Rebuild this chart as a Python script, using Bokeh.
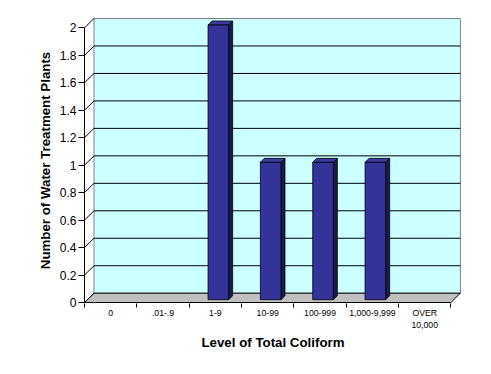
import numpy as np
from bokeh.plotting import figure
from bokeh.models import FixedTicker, Range1d
from bokeh.embed import file_html
from bokeh.resources import INLINE

# ---- data ----
categories = ["0", ".01-.9", "1-9", "10-99", "100-999", "1,000-9,999", "OVER\n10,000"]
plants = [0, 0, 2, 1, 1, 1, 0]
y_ticks = [0, 0.2, 0.4, 0.6, 0.8, 1.0, 1.2, 1.4, 1.6, 1.8, 2.0]
y_tick_labels = ["0", "0.2", "0.4", "0.6", "0.8", "1", "1.2", "1.4", "1.6", "1.8", "2"]

# ---- layout constants (pixels) ----
PX_PER_CAT = 52.34
PX_PER_UNIT = 137.35
FRAME_W, FRAME_H = 379, 286
PAD = 1.0
ux, uy = 1.0 / PX_PER_CAT, 1.0 / PX_PER_UNIT
wall_dx, wall_dy = 9.5 * ux, 9.3 * uy
bar_dx, bar_dy = 3.0 * ux, 2.8 * uy
depth_x, depth_y = 4.0 * ux, 4.0 * uy
bar_w = 20.6 * ux

n = len(categories)
x_range = Range1d(-PAD * ux, (FRAME_W - PAD) * ux)
y_range = Range1d(-PAD * uy, (FRAME_H - PAD) * uy)

p = figure(width=483, height=366, x_range=x_range, y_range=y_range,
           output_backend="svg", toolbar_location=None,
           min_border_left=83, min_border_right=21, min_border_top=17, min_border_bottom=63)
p.outline_line_color = None
p.background_fill_color = "white"
p.border_fill_color = "white"
p.xgrid.visible = False
p.ygrid.visible = False

FONT = "Liberation Sans"
yt = np.array(y_ticks, dtype=float)
ymax = yt[-1]

# back wall
p.quad(left=wall_dx, right=n + wall_dx, bottom=wall_dy, top=ymax + wall_dy,
       fill_color="#CCFFFF", line_color="#808080", line_width=1)
# gridlines on back wall
p.segment(x0=wall_dx, y0=yt[1:-1] + wall_dy, x1=n + wall_dx, y1=yt[1:-1] + wall_dy,
          line_color="black", line_width=1)
# floor
p.patch(x=[0, n, n + wall_dx, wall_dx], y=[0, 0, wall_dy, wall_dy],
        fill_color="#C0C0C0", line_color="black", line_width=1)
# diagonal side-wall ticks
p.segment(x0=0, y0=yt, x1=wall_dx, y1=yt + wall_dy, line_color="black", line_width=1)
# front value axis line
p.segment(x0=[0], y0=[0], x1=[0], y1=[ymax], line_color="black", line_width=1)

# bars
vals = np.array(plants, dtype=float)
idx = np.arange(n)
mask = vals > 0
cx = idx[mask] + 0.5 + bar_dx
v = vals[mask]
x0 = cx - bar_w / 2
x1 = cx + bar_w / 2
y0 = np.full_like(v, bar_dy)
y1 = v + bar_dy

side_xs = [[a, a + depth_x, a + depth_x, a] for a in x1]
side_ys = [[b, b + depth_y, t + depth_y, t] for b, t in zip(y0, y1)]
top_xs = [[a, b, b + depth_x, a + depth_x] for a, b in zip(x0, x1)]
top_ys = [[t, t, t + depth_y, t + depth_y] for t in y1]
p.patches(xs=side_xs, ys=side_ys, fill_color="#1A1A55", line_color="black", line_width=0.8)
p.patches(xs=top_xs, ys=top_ys, fill_color="#3A3AA0", line_color="black", line_width=0.8)
p.quad(left=x0, right=x1, bottom=y0, top=y1, fill_color="#333399",
       line_color="black", line_width=0.8)

# ---- axes ----
yax = p.yaxis[0]
yax.ticker = FixedTicker(ticks=y_ticks, minor_ticks=[])
yax.major_label_overrides = {t: l for t, l in zip(y_ticks, y_tick_labels)}
yax.axis_line_color = None
yax.major_tick_out = 5
yax.major_tick_in = 1
yax.minor_tick_out = 0
yax.minor_tick_in = 0
yax.major_label_standoff = 2
yax.major_label_text_font = FONT
yax.major_label_text_font_size = "12px"
yax.major_label_text_color = "black"
yax.axis_label = "Number of Water Treatment Plants"
yax.axis_label_text_font = FONT
yax.axis_label_text_font_style = "bold"
yax.axis_label_text_font_size = "13.3px"
yax.axis_label_text_color = "black"
yax.axis_label_standoff = 4

centers = [i + 0.5 for i in range(n)]
bounds = [float(i) for i in range(n + 1)]
xax = p.xaxis[0]
xax.ticker = FixedTicker(ticks=centers, minor_ticks=bounds)
xax.major_label_overrides = {c: l for c, l in zip(centers, categories)}
xax.axis_line_color = None
xax.major_tick_out = 0
xax.major_tick_in = 0
xax.minor_tick_out = 4
xax.minor_tick_in = 0
xax.minor_tick_line_color = "black"
xax.major_label_standoff = 0
xax.major_label_text_font = FONT
xax.major_label_text_font_size = "8.7px"
xax.major_label_text_color = "black"
xax.axis_label = "Level of Total Coliform"
xax.axis_label_text_font = FONT
xax.axis_label_text_font_style = "bold"
xax.axis_label_text_font_size = "13.3px"
xax.axis_label_text_color = "black"
xax.axis_label_standoff = 2

open("out.html", "w").write(file_html(p, INLINE))
